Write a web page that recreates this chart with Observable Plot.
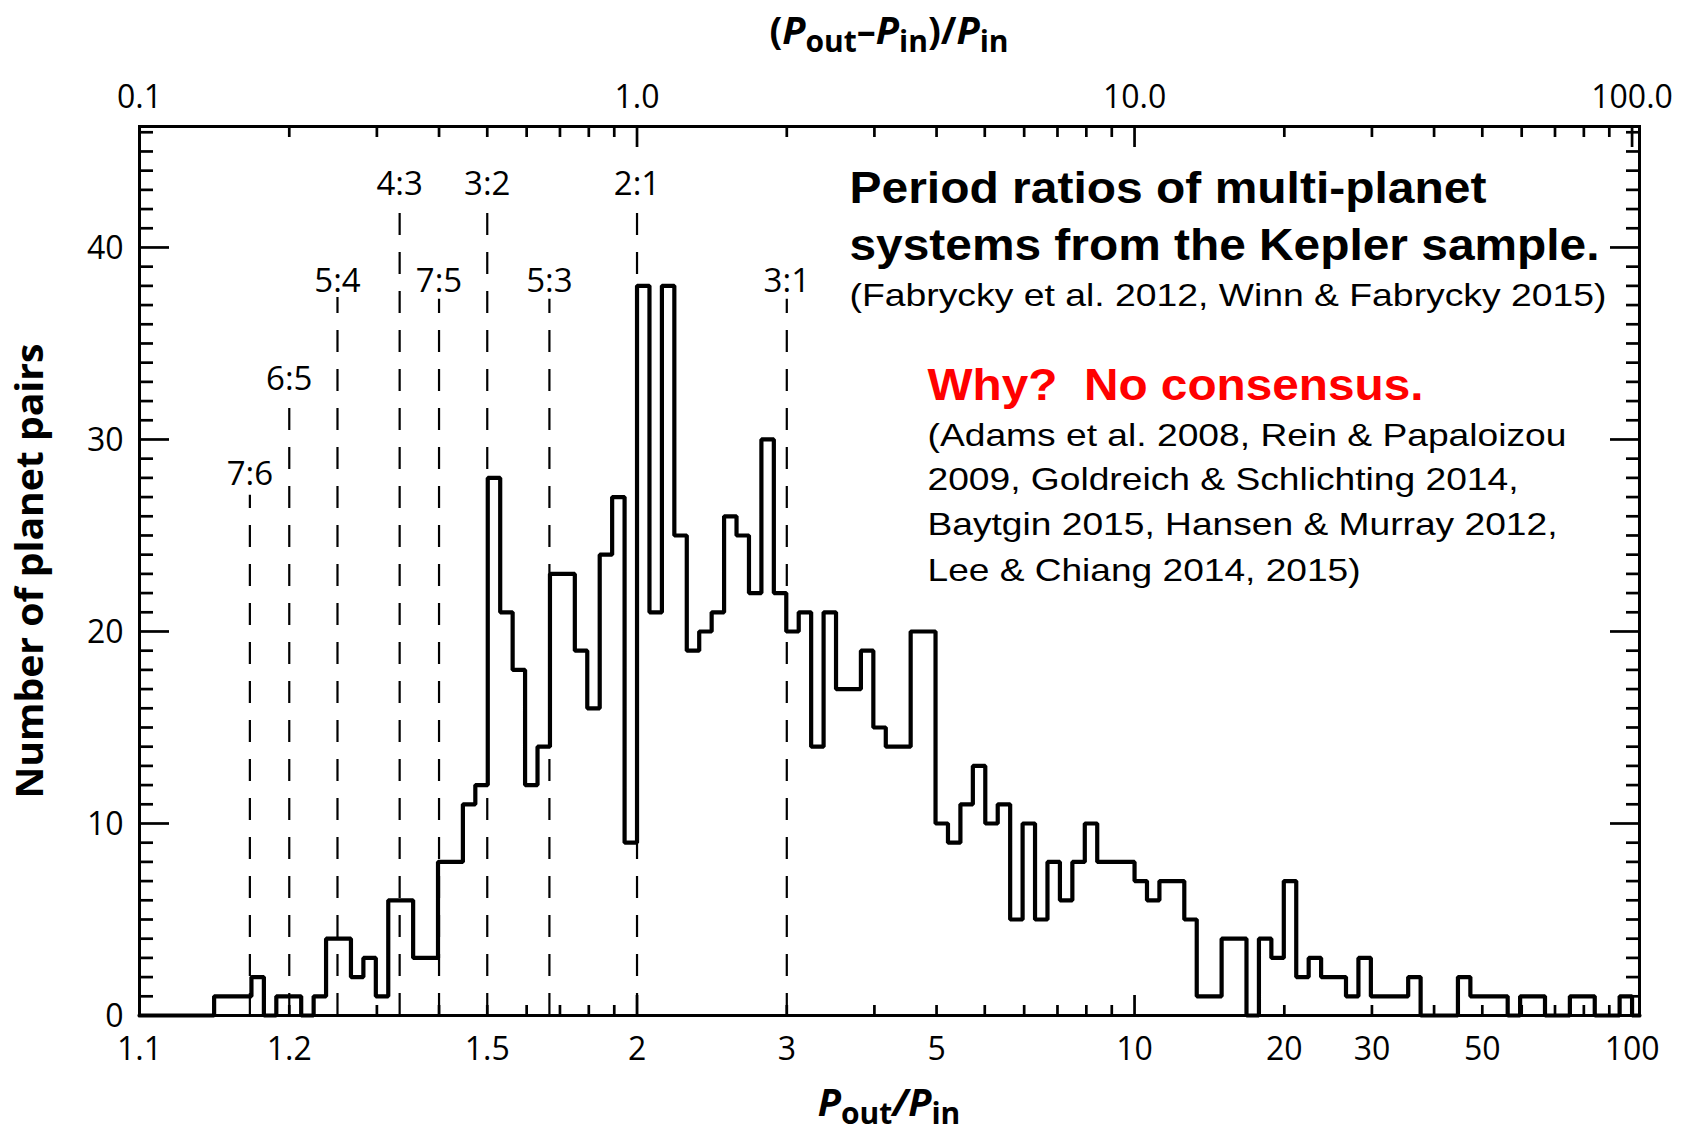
<!DOCTYPE html>
<html>
<head>
<meta charset="utf-8">
<script src="https://cdn.jsdelivr.net/npm/d3@7"></script>
<script src="https://cdn.jsdelivr.net/npm/@observablehq/plot@0.6"></script>
<style>
  html, body { margin: 0; padding: 0; background: #ffffff; }
  #chart svg { display: block; }
  #chart text { white-space: pre; }
</style>
</head>
<body>
<div id="chart"></div>
<script>
// ---------------- DATA ----------------
// Histogram of log10(Pout/Pin - 1): bins 0.025 dex wide, first bin starts at 0.1
const binStartLog10 = -1;
const binWidthDex = 0.025;
const pairCounts = [
  0, 0, 0, 0, 0, 0, 1, 1, 1, 2,
  0, 1, 1, 0, 1, 4, 4, 2, 3, 1,
  6, 6, 3, 3, 8, 8, 11, 12,
  28, 21, 18, 12, 14, 23, 23, 19, 16, 24, 27, 9,
  38, 21, 38, 25, 19, 20, 21, 26, 25, 22, 30, 22,
  20, 21, 14, 21, 17, 17, 19, 15, 14, 14, 20, 20,
  10, 9, 11, 13, 10, 11, 5, 10, 5, 8, 6, 8, 10,
  8, 8, 8, 7, 6, 7, 7, 5, 1, 1, 4, 4, 0,
  4, 3, 7, 2, 3, 2, 2, 1, 3, 1, 1, 1, 2,
  0, 0, 0, 2, 1, 1, 1, 0, 1, 1, 0, 0, 1, 1, 0, 0, 1
];

// Mean-motion resonances
const resonanceNames  = ["7:6", "6:5", "5:4", "4:3", "7:5", "3:2", "5:3", "2:1", "3:1"];
const resonanceRatios = [7/6, 6/5, 5/4, 4/3, 7/5, 3/2, 5/3, 2, 3];
const resonanceLabelY = [28.2, 33.15, 38.25, 43.3, 38.25, 43.3, 38.25, 43.3, 38.25];
const resonanceLineTop = [27.1, 32.2, 37.4, 41.85, 37.3, 41.85, 37.3, 42.3, 37.3];

// Axes (x positions are in Pout/Pin - 1)
const bottomTickValues = [0.1, 0.2, 0.5, 1, 2, 4, 10, 20, 30, 50, 100];
const bottomTickLabels = ["1.1", "1.2", "1.5", "2", "3", "5", "10", "20", "30", "50", "100"];
const topTickValues = [0.1, 1, 10, 100];
const topTickLabels = ["0.1", "1.0", "10.0", "100.0"];
const yTickValues = [0, 10, 20, 30, 40];
const xMajorTicks = [0.1, 1, 10, 100];
const xMinorTicks = [0.2, 0.3, 0.4, 0.5, 0.6, 0.7, 0.8, 0.9,
                     2, 3, 4, 5, 6, 7, 8, 9,
                     20, 30, 40, 50, 60, 70, 80, 90];
const yMajorTicks = [0, 10, 20, 30, 40];
const yMinorTicks = d3.range(0, 47).filter(v => v % 10 !== 0);

const xDomain = [0.1, 103.5];
const yDomain = [0, 46.3];

// Text
const titleLines = ["Period ratios of multi-planet", "systems from the Kepler sample."];
const sourceLine = "(Fabrycky et al. 2012, Winn & Fabrycky 2015)";
const questionLine = "Why?  No consensus.";
const citationLines = [
  "(Adams et al. 2008, Rein & Papaloizou",
  "2009, Goldreich & Schlichting 2014,",
  "Baytgin 2015, Hansen & Murray 2012,",
  "Lee & Chiang 2014, 2015)"
];
const yAxisTitle = "Number of planet pairs";

// ---------------- LAYOUT / STYLE ----------------
const W = 1690, H = 1133;
const M = {left: 139, right: 51, top: 126, bottom: 118};
const tickFont = "'Open Sans', 'DejaVu Sans', sans-serif";
const noteFont = "'Liberation Sans', Arial, sans-serif";

// annotation blocks: [text, dx, dy(baseline from frame top-left), fontSize, weight, color, targetWidth]
const notes = [
  [titleLines[0], 710, 76, 44, "bold", "#000", 637],
  [titleLines[1], 710, 133, 44, "bold", "#000", 750],
  [sourceLine, 710, 179, 32, "normal", "#000", 757],
  [questionLine, 788, 273, 44, "bold", "#ff0000", 496],
  [citationLines[0], 788, 319, 32, "normal", "#000", 639],
  [citationLines[1], 788, 363.5, 32, "normal", "#000", 591],
  [citationLines[2], 788, 408.5, 32, "normal", "#000", 630],
  [citationLines[3], 788, 454, 32, "normal", "#000", 433]
];
const textWidths = new Map(notes.map(n => [n[0], n[6]]));
textWidths.set(yAxisTitle, 455);

// ---------------- BUILD ----------------
const histPoints = pairCounts.map((c, k) => ({x: Math.pow(10, binStartLog10 + k * binWidthDex), y: c}));
histPoints.push({x: Math.pow(10, binStartLog10 + pairCounts.length * binWidthDex), y: 0});
histPoints.push({x: xDomain[1], y: 0});

const resonances = resonanceNames.map((name, i) => ({
  name, x: resonanceRatios[i] - 1, labelY: resonanceLabelY[i], top: resonanceLineTop[i]
}));
const bottomTicks = bottomTickValues.map((v, i) => ({v, label: bottomTickLabels[i]}));
const topTicks = topTickValues.map((v, i) => ({v, label: topTickLabels[i]}));

const tickOpts = {strokeWidth: 2.7, fill: "none", tickFormat: () => "", label: null};

const chart = Plot.plot({
  width: W, height: H,
  marginLeft: M.left, marginRight: M.right, marginTop: M.top, marginBottom: M.bottom,
  x: {type: "log", domain: xDomain},
  y: {domain: yDomain},
  style: {background: "#ffffff", color: "#000000", fontFamily: tickFont, overflow: "visible"},
  marks: [
    // resonance guide lines
    Plot.ruleX(resonances, {x: "x", y1: 0, y2: "top", stroke: "#000", strokeWidth: 2.2, strokeDasharray: "22,17"}),
    Plot.text(resonances, {x: "x", y: "labelY", text: "name", fontSize: 33, lineAnchor: "middle", fill: "#000"}),
    // histogram
    Plot.line(histPoints, {x: "x", y: "y", curve: "step-after", stroke: "#000", strokeWidth: 4.2, strokeLinejoin: "miter"}),
    // frame
    Plot.frame({stroke: "#000", strokeWidth: 3}),
    // ticks (inward)
    Plot.axisX(xMinorTicks, {anchor: "bottom", tickSize: -10, ...tickOpts}),
    Plot.axisX(xMajorTicks, {anchor: "bottom", tickSize: -20, ...tickOpts}),
    Plot.axisX(xMinorTicks, {anchor: "top", tickSize: -10, ...tickOpts}),
    Plot.axisX(xMajorTicks, {anchor: "top", tickSize: -20, ...tickOpts}),
    Plot.axisY(yMinorTicks, {anchor: "left", tickSize: -14, ...tickOpts}),
    Plot.axisY(yMajorTicks, {anchor: "left", tickSize: -30, ...tickOpts}),
    Plot.axisY(yMinorTicks, {anchor: "right", tickSize: -14, ...tickOpts}),
    Plot.axisY(yMajorTicks, {anchor: "right", tickSize: -30, ...tickOpts}),
    // tick labels
    Plot.text(bottomTicks, {x: "v", text: "label", frameAnchor: "bottom", dy: 34, lineAnchor: "middle", fontSize: 32, fill: "#000"}),
    Plot.text(topTicks, {x: "v", text: "label", frameAnchor: "top", dy: -29, lineAnchor: "middle", fontSize: 32, fill: "#000"}),
    Plot.text(yTickValues, {y: d => d, text: d => String(d), frameAnchor: "left", textAnchor: "end", dx: -16, dy: 1, lineAnchor: "middle", fontSize: 32, fill: "#000"}),
    // y axis title
    Plot.text([yAxisTitle], {frameAnchor: "left", dx: -109, rotate: -90, textAnchor: "middle", lineAnchor: "middle", fontSize: 38, fontWeight: "bold", fill: "#000"}),
    // annotations
    ...notes.map(n => Plot.text([n[0]], {
      frameAnchor: "top-left", dx: n[1], dy: n[2], textAnchor: "start", lineAnchor: "bottom",
      fontSize: n[3], fontWeight: n[4], fill: n[5], fontFamily: noteFont
    }))
  ]
});

document.getElementById("chart").appendChild(chart);

// stretch texts to their measured widths
chart.querySelectorAll("text").forEach(t => {
  const w = textWidths.get(t.textContent);
  if (w) { t.setAttribute("textLength", w); t.setAttribute("lengthAdjust", "spacingAndGlyphs"); }
});

// axis titles with subscripts
const svg = d3.select(chart);
function ratioTitle(parts, x, y) {
  const t = svg.append("text")
    .attr("x", x).attr("y", y).attr("text-anchor", "middle")
    .attr("font-family", tickFont).attr("font-weight", "bold").attr("font-size", 38).attr("fill", "#000");
  let shifted = false;
  parts.forEach(([s, kind]) => {
    const sp = t.append("tspan").text(s);
    if (kind === "sub") {
      sp.attr("font-size", 30).attr("dy", shifted ? 0 : 8);
      shifted = true;
    } else {
      if (shifted) { sp.attr("dy", -8); shifted = false; }
      if (kind === "it") sp.attr("font-style", "italic");
    }
  });
  return t;
}
ratioTitle([["P", "it"], ["out", "sub"], ["/", "it"], ["P", "it"], ["in", "sub"]], 889, 1116);
ratioTitle([["(", "n"], ["P", "it"], ["out", "sub"], ["\u2013", "n"], ["P", "it"], ["in", "sub"], [")/", "n"], ["P", "it"], ["in", "sub"]], 889, 44);
</script>
</body>
</html>
